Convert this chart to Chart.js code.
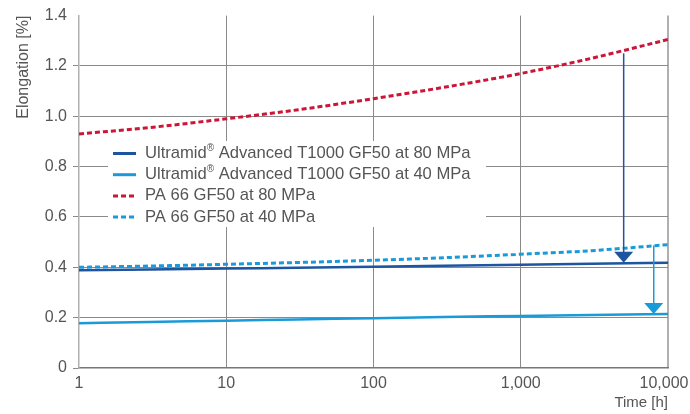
<!DOCTYPE html>
<html>
<head>
<meta charset="utf-8">
<script src="https://cdn.jsdelivr.net/npm/chart.js@4.4.0/dist/chart.umd.min.js"></script>
<style>
  html, body { margin: 0; padding: 0; background: #fff; }
  #wrap { width: 690px; height: 414px; position: relative; }
</style>
</head>
<body>
<div id="wrap"><canvas id="creepChart"></canvas></div>
<script>
// Creep data (time in hours, elongation in %)
const hours = [1, 3, 10, 30, 100, 300, 1000, 3000, 10000];
const t1000At80 = [0.388, 0.391, 0.395, 0.398, 0.402, 0.406, 0.410, 0.414, 0.418];
const t1000At40 = [0.178, 0.183, 0.188, 0.193, 0.198, 0.203, 0.207, 0.211, 0.215];
const pa66At80 = [0.930, 0.955, 0.990, 1.025, 1.070, 1.115, 1.170, 1.230, 1.305];
const pa66At40 = [0.400, 0.405, 0.412, 0.419, 0.428, 0.438, 0.452, 0.466, 0.490];

const seriesLabels = [
    'Ultramid® Advanced T1000 GF50 at 80 MPa',
    'Ultramid® Advanced T1000 GF50 at 40 MPa',
    'PA 66 GF50 at 80 MPa',
    'PA 66 GF50 at 40 MPa'
];

const xTicks = [1, 10, 100, 1000, 10000];
const yTicks = [0, 0.2, 0.4, 0.6, 0.8, 1.0, 1.2, 1.4];

// Arrows: from PA 66 curve down to the Ultramid curve
const arrowHours = [5000, 8000];
const arrowFrom = [1.25, 0.487];
const arrowTo = [0.418, 0.215];

const darkBlue = '#1d55a0';
const lightBlue = '#1a9ad8';
const red = '#cc1638';
const textColor = '#555';
const fontFamily = '"Liberation Sans", Arial, sans-serif';

function points(values) {
    return hours.map((h, i) => ({ x: h, y: values[i] }));
}

// Pull the last x label ("10,000") a little inward so it is not cut off
const lastLabelPlugin = {
    id: 'lastLabel',
    beforeDraw(chart) {
        const items = chart.scales.x.getLabelItems();
        const last = items[items.length - 1];
        if (last && !last._shifted) {
            last.options.translation[0] -= 4;
            last._shifted = true;
        }
    }
};

// Draw the two vertical arrows using the scales
const arrowPlugin = {
    id: 'arrows',
    afterDatasetsDraw(chart) {
        const ctx = chart.ctx;
        const xs = chart.scales.x;
        const ys = chart.scales.y;
        const colors = [darkBlue, lightBlue];
        ctx.save();
        arrowHours.forEach((h, i) => {
            const x = xs.getPixelForValue(h);
            const y1 = ys.getPixelForValue(arrowFrom[i]);
            const y2 = ys.getPixelForValue(arrowTo[i]);
            ctx.strokeStyle = colors[i];
            ctx.fillStyle = colors[i];
            ctx.lineWidth = 1.5;
            ctx.beginPath();
            ctx.moveTo(x, y1);
            ctx.lineTo(x, y2 - 8);
            ctx.stroke();
            ctx.beginPath();
            ctx.moveTo(x - 9.5, y2 - 11);
            ctx.lineTo(x + 9.5, y2 - 11);
            ctx.lineTo(x, y2);
            ctx.closePath();
            ctx.fill();
        });
        ctx.restore();
    }
};

// Legend in a white box inside the plot
const boxLegendPlugin = {
    id: 'boxLegend',
    afterDraw(chart) {
        const ctx = chart.ctx;
        ctx.save();
        ctx.fillStyle = '#fff';
        ctx.fillRect(108, 141, 378, 86);
        chart.data.datasets.forEach((ds, i) => {
            const y = 153.5 + i * 21.2;
            ctx.strokeStyle = ds.borderColor;
            ctx.lineWidth = 3;
            ctx.setLineDash(ds.borderDash || []);
            ctx.beginPath();
            ctx.moveTo(113, y);
            ctx.lineTo(136, y);
            ctx.stroke();
            ctx.setLineDash([]);

            ctx.fillStyle = textColor;
            ctx.textBaseline = 'middle';
            let x = 145;
            const parts = ds.label.split('®');
            parts.forEach((part, k) => {
                ctx.font = '16.6px ' + fontFamily;
                ctx.fillText(part, x, y);
                x += ctx.measureText(part).width;
                if (k < parts.length - 1) {
                    ctx.font = '10px ' + fontFamily;
                    ctx.fillText('®', x, y - 5);
                    x += ctx.measureText('®').width;
                }
            });
        });
        ctx.restore();
    }
};

new Chart(document.getElementById('creepChart'), {
    type: 'line',
    data: {
        datasets: [
            { label: seriesLabels[0], data: points(t1000At80), borderColor: darkBlue, borderWidth: 2.5 },
            { label: seriesLabels[1], data: points(t1000At40), borderColor: lightBlue, borderWidth: 2.5 },
            { label: seriesLabels[2], data: points(pa66At80), borderColor: red, borderWidth: 3, borderDash: [5, 3] },
            { label: seriesLabels[3], data: points(pa66At40), borderColor: lightBlue, borderWidth: 3, borderDash: [5, 3] }
        ]
    },
    options: {
        responsive: true,
        maintainAspectRatio: false,
        animation: false,
        elements: {
            point: { radius: 0 },
            line: { tension: 0.4, cubicInterpolationMode: 'monotone' }
        },
        layout: { padding: { top: 11, right: 22, left: 0, bottom: 0 } },
        plugins: {
            legend: { display: false },
            tooltip: { enabled: false }
        },
        scales: {
            x: {
                type: 'logarithmic',
                min: 1,
                max: 10000,
                afterBuildTicks: scale => { scale.ticks = xTicks.map(v => ({ value: v })); },
                afterFit: scale => {
                    scale.height = 46;
                    scale.paddingRight = 0;
                    scale.paddingLeft = 0;
                },
                ticks: {
                    autoSkip: false,
                    maxRotation: 0,
                    padding: 6,
                    color: textColor,
                    font: { family: fontFamily, size: 16 },
                    callback: v => Number(v).toLocaleString('en-US')
                },
                grid: {
                    drawTicks: false,
                    color: ctx => ctx.tick && ctx.tick.value === 1 ? 'rgba(0,0,0,0)' :
                        (ctx.tick && ctx.tick.value === 10000 ? '#b0b0b0' : '#8a8a8a'),
                    lineWidth: ctx => ctx.tick && ctx.tick.value === 10000 ? 2 : 1
                },
                border: { color: '#777', width: 1.5 },
                title: {
                    display: true,
                    text: 'Time [h]',
                    align: 'end',
                    color: textColor,
                    font: { family: fontFamily, size: 15 },
                    padding: { top: 0, bottom: 2 }
                }
            },
            y: {
                min: 0,
                max: 1.4,
                afterBuildTicks: scale => { scale.ticks = yTicks.map(v => ({ value: v })); },
                afterFit: scale => { scale.width = 79; },
                ticks: {
                    padding: 6,
                    color: textColor,
                    font: { family: fontFamily, size: 16 },
                    callback: v => v === 0 ? '0' : Number(v).toFixed(1)
                },
                grid: {
                    tickLength: 6,
                    color: ctx => ctx.tick && (ctx.tick.value === 0 || ctx.tick.value === 1.4) ? 'rgba(0,0,0,0)' : '#8a8a8a',
                    tickColor: ctx => ctx.tick && ctx.tick.value === 1.4 ? 'rgba(0,0,0,0)' : '#8a8a8a'
                },
                border: { color: '#b0b0b0', width: 1.5 },
                title: {
                    display: true,
                    text: 'Elongation [%]',
                    align: 'end',
                    color: textColor,
                    font: { family: fontFamily, size: 16 },
                    padding: { top: 14, bottom: 0 }
                }
            }
        }
    },
    plugins: [lastLabelPlugin, arrowPlugin, boxLegendPlugin]
});
</script>
</body>
</html>
